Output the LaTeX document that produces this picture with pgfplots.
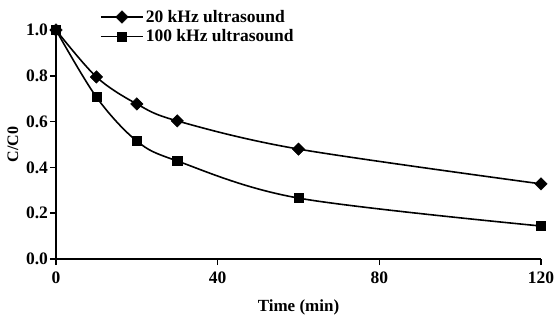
\documentclass[border=0pt]{standalone}
\usepackage{pgfplots}
\pgfplotsset{compat=1.18}
\usepackage{fontspec}
\setmainfont{Liberation Serif}
\newcommand\tickfont{\fontsize{17.5}{19}\selectfont\bfseries}
\newcommand\legfont{\fontsize{17.5}{19}\selectfont\bfseries}
\newcommand\labfont{\fontsize{17}{19}\selectfont\bfseries}
\begin{document}
\begin{tikzpicture}
\begin{axis}[
  scale only axis,
  width=485pt, height=229pt,
  xmin=0, xmax=120, ymin=0, ymax=1,
  axis lines*=left,
  axis line style={line width=1.6pt},
  clip=false,
  tick align=outside,
  major tick length=6pt,
  tick style={line width=1.6pt, black},
  xtick={0,40,80,120},
  ytick={0,0.2,0.4,0.6,0.8,1.0},
  yticklabel style={/pgf/number format/fixed, /pgf/number format/fixed zerofill, /pgf/number format/precision=1, /tikz/xshift=1.5pt},
  /pgf/number format/assume math mode=true,
  tick label style={font=\tickfont},
  xticklabel style={yshift=-3pt},
  xlabel={Time (min)},
  ylabel={C/C0},
  xlabel style={font=\labfont, yshift=-9pt},
  ylabel style={font=\fontsize{16}{18}\selectfont\bfseries, yshift=1pt},
  legend style={at={(0.0907,1)}, anchor=north west, yshift=22pt, draw=none, fill=none,
    inner sep=0pt, font=\legfont, row sep=2pt,
    /tikz/every even column/.append style={column sep=6pt}},
  legend cell align=left,
  legend image code/.code={
    \draw[mark repeat=2,mark phase=2,#1] plot coordinates {(0pt,0pt)(21pt,0pt)(42pt,0pt)};},
]
\addplot[black, line width=1.6pt, smooth, tension=0.55, mark=square*, mark size=4.4pt,
  mark options={rotate=45, solid, line width=0.5pt}]
  coordinates {(0,1.0)(10,0.795)(20,0.677)(30,0.603)(60,0.48)(120,0.328)};
\addlegendentry{20 kHz ultrasound}
\addplot[black, line width=1.6pt, smooth, tension=0.55, mark=square*, mark size=4.6pt,
  mark options={solid, line width=0.5pt}]
  coordinates {(0,1.0)(10,0.707)(20,0.515)(30,0.428)(60,0.266)(120,0.144)};
\addlegendentry{100 kHz ultrasound}
\end{axis}
\pgfresetboundingbox
\path (-56pt,-65pt) rectangle (500pt,259pt);
\end{tikzpicture}
\end{document}
